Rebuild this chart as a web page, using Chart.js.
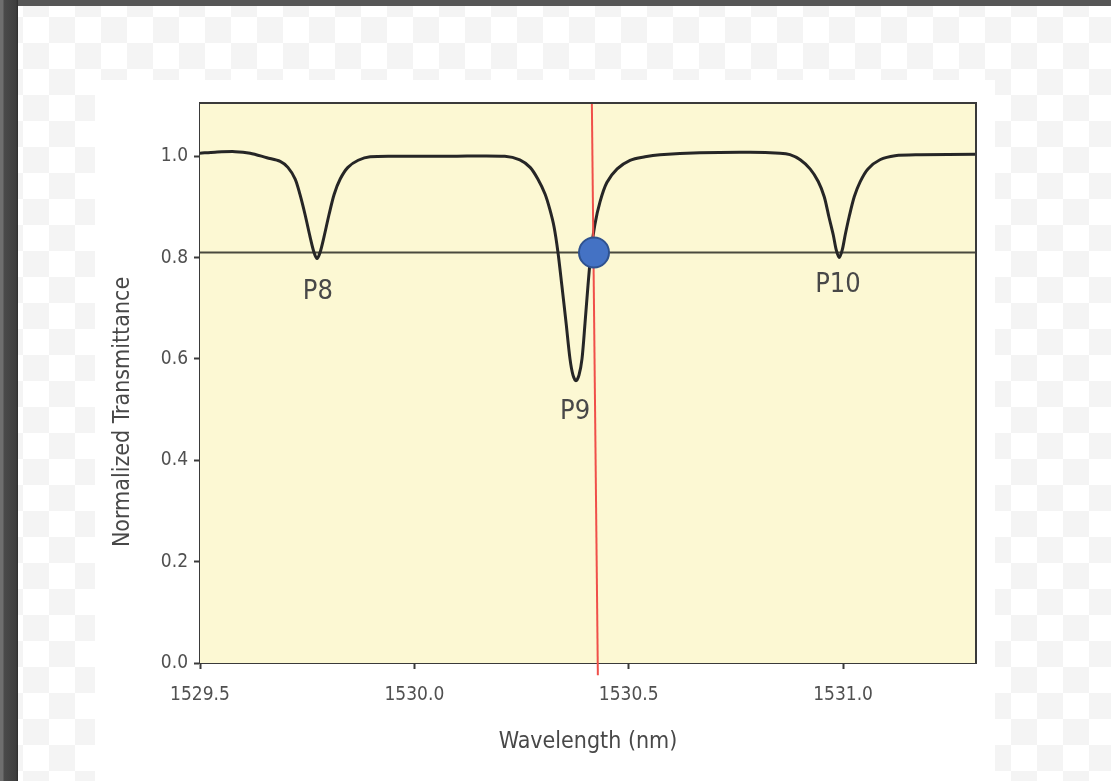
<!DOCTYPE html>
<html>
<head>
<meta charset="utf-8">
<title>Normalized Transmittance</title>
<script src="https://cdn.jsdelivr.net/npm/chart.js@4.4.1/dist/chart.umd.min.js"></script>
<style>
  html, body { margin: 0; padding: 0; }
  body { width: 1111px; height: 781px; overflow: hidden; position: relative; background: #fff; }
  .checker {
    position: absolute; left: 0; top: 0; width: 1111px; height: 781px;
    background-color: #fff;
    background-image: conic-gradient(#f4f4f4 25%, #fff 0 50%, #f4f4f4 0 75%, #fff 0);
    background-size: 52px 52px;
    background-position: 23px 17px;
  }
  .panel { position: absolute; left: 95px; top: 80px; width: 900px; height: 701px; background: #fff; }
  .band-top { position: absolute; left: 0; top: 0; width: 1111px; height: 6px; background: #565656; }
  .band-left {
    position: absolute; left: 0; top: 0; width: 18px; height: 781px;
    background: linear-gradient(to right, #6e6e6e 0, #6e6e6e 3px, #4a4a4a 4px, #3e3e3e 16px, #2c2c2c 18px);
  }
  .wrap { position: absolute; left: 0; top: 0; width: 1111px; height: 781px; }
</style>
</head>
<body>
<div class="checker"></div>
<div class="panel"></div>
<div class="band-top"></div>
<div class="band-left"></div>
<div class="wrap"><canvas id="chart"></canvas></div>
<script>
// transmission spectrum
const wavelength = [
  1529.500, 1529.535, 1529.582, 1529.617, 1529.656, 1529.687, 1529.705, 1529.722,
  1529.733, 1529.745, 1529.757, 1529.766, 1529.773, 1529.780, 1529.789, 1529.801,
  1529.813, 1529.827, 1529.845, 1529.869, 1529.897, 1529.967, 1530.083, 1530.211,
  1530.246, 1530.270, 1530.288, 1530.305, 1530.316, 1530.326, 1530.335, 1530.344,
  1530.354, 1530.363, 1530.370, 1530.377, 1530.384, 1530.391, 1530.398, 1530.405,
  1530.412, 1530.421, 1530.433, 1530.449, 1530.473, 1530.503, 1530.538, 1530.573,
  1530.666, 1530.783, 1530.853, 1530.876, 1530.900, 1530.923, 1530.942, 1530.956,
  1530.967, 1530.977, 1530.984, 1530.991, 1530.998, 1531.005, 1531.014, 1531.026,
  1531.040, 1531.058, 1531.086, 1531.121, 1531.180, 1531.310,
];
const transmittance = [
  1.006, 1.008, 1.009, 1.006, 0.997, 0.990, 0.978, 0.955,
  0.925, 0.885, 0.840, 0.810, 0.798, 0.810, 0.840, 0.885,
  0.925, 0.955, 0.978, 0.992, 0.999, 1.000, 1.000, 1.000,
  0.993, 0.978, 0.955, 0.925, 0.895, 0.860, 0.810, 0.745,
  0.670, 0.600, 0.568, 0.557, 0.568, 0.600, 0.670, 0.745,
  0.810, 0.865, 0.910, 0.948, 0.975, 0.992, 0.999, 1.003,
  1.007, 1.008, 1.006, 1.003, 0.993, 0.975, 0.950, 0.920,
  0.880, 0.845, 0.815, 0.800, 0.815, 0.845, 0.880, 0.920,
  0.950, 0.975, 0.993, 1.001, 1.003, 1.004,
];

// reference level and marker
const thresholdX = [1529.5, 1531.31];
const thresholdY = [0.81, 0.81];
const cursorX = [1530.414, 1530.428];
const cursorY = [1.105, -0.024];
const markerX = [1530.419];
const markerY = [0.81];

// peak labels
const peakLabels = ['P8', 'P9', 'P10'];
const peakLabelX = [1529.775, 1530.375, 1530.988];
const peakLabelY = [0.732, 0.496, 0.746];

// axes
const xTicks = [1529.5, 1530.0, 1530.5, 1531.0];
const yTicks = [0.0, 0.2, 0.4, 0.6, 0.8, 1.0];
const xRange = [1529.5, 1531.31];
const yRange = [0, 1.105];
const xTitle = 'Wavelength (nm)';
const yTitle = 'Normalized Transmittance';

const FONT = '"Liberation Sans Narrow", "DejaVu Sans Condensed", sans-serif';
const pts = (xs, ys) => xs.map((x, i) => ({ x, y: ys[i] }));

const plotDecor = {
  id: 'plotDecor',
  beforeDatasetsDraw(chart) {
    const { ctx, chartArea: a } = chart;
    ctx.save();
    ctx.fillStyle = '#fcf8d3';
    ctx.fillRect(a.left, a.top, a.right - a.left, a.bottom - a.top);
    ctx.restore();
  },
  afterDraw(chart) {
    const { ctx, chartArea: a, scales } = chart;
    ctx.save();
    ctx.strokeStyle = '#3a3a3a';
    ctx.lineWidth = 2;
    ctx.beginPath();
    ctx.moveTo(a.left, a.top);
    ctx.lineTo(a.right, a.top);
    ctx.lineTo(a.right, a.bottom);
    ctx.stroke();

    ctx.fillStyle = '#484848';
    ctx.font = '27px ' + FONT;
    ctx.textAlign = 'center';
    ctx.textBaseline = 'middle';
    peakLabels.forEach((t, i) => {
      ctx.fillText(t, scales.x.getPixelForValue(peakLabelX[i]), scales.y.getPixelForValue(peakLabelY[i]));
    });

    ctx.font = '23px ' + FONT;
    ctx.translate(123, 412);
    ctx.rotate(-Math.PI / 2);
    ctx.fillText(yTitle, 0, 0);
    ctx.restore();
  },
};

new Chart(document.getElementById('chart'), {
  type: 'scatter',
  data: {
    datasets: [
      {
        data: pts(markerX, markerY),
        pointRadius: 15,
        pointBackgroundColor: '#4472c4',
        pointBorderColor: '#2f528f',
        pointBorderWidth: 2,
        order: 0,
      },
      {
        data: pts(cursorX, cursorY),
        showLine: true,
        borderColor: '#f0504a',
        borderWidth: 2,
        pointRadius: 0,
        clip: false,
        order: 1,
      },
      {
        data: pts(wavelength, transmittance),
        showLine: true,
        borderColor: '#262626',
        borderWidth: 3,
        pointRadius: 0,
        tension: 0.3,
        order: 2,
      },
      {
        data: pts(thresholdX, thresholdY),
        showLine: true,
        borderColor: '#4a4a3e',
        borderWidth: 2,
        pointRadius: 0,
        order: 3,
      },
    ],
  },
  options: {
    responsive: true,
    maintainAspectRatio: false,
    animation: false,
    layout: { padding: { left: 110, top: 103, right: 135, bottom: 21 } },
    plugins: { legend: { display: false }, tooltip: { enabled: false } },
    scales: {
      x: {
        type: 'linear',
        min: xRange[0],
        max: xRange[1],
        afterBuildTicks: (s) => { s.ticks = xTicks.map((v) => ({ value: v })); },
        afterFit: (s) => { s.height = 97; },
        ticks: {
          color: '#505050',
          font: { family: FONT, size: 19 },
          padding: 15,
          maxRotation: 0,
          callback: (v) => Number(v).toFixed(1),
        },
        grid: { drawOnChartArea: false, drawTicks: true, tickLength: 6, tickWidth: 2, tickColor: '#3a3a3a' },
        border: { display: true, color: '#3a3a3a', width: 2 },
        title: { display: true, text: xTitle, color: '#484848', font: { family: FONT, size: 23 }, padding: { top: 4, bottom: 4 } },
      },
      y: {
        type: 'linear',
        min: yRange[0],
        max: yRange[1],
        afterBuildTicks: (s) => { s.ticks = yTicks.map((v) => ({ value: v })); },
        afterFit: (s) => { s.width = 90; },
        ticks: {
          color: '#505050',
          font: { family: FONT, size: 19 },
          padding: 6,
          callback: (v) => Number(v).toFixed(1),
        },
        grid: { drawOnChartArea: false, drawTicks: true, tickLength: 6, tickWidth: 2, tickColor: '#3a3a3a' },
        border: { display: true, color: '#3a3a3a', width: 2 },
      },
    },
  },
  plugins: [plotDecor],
});
</script>
</body>
</html>
